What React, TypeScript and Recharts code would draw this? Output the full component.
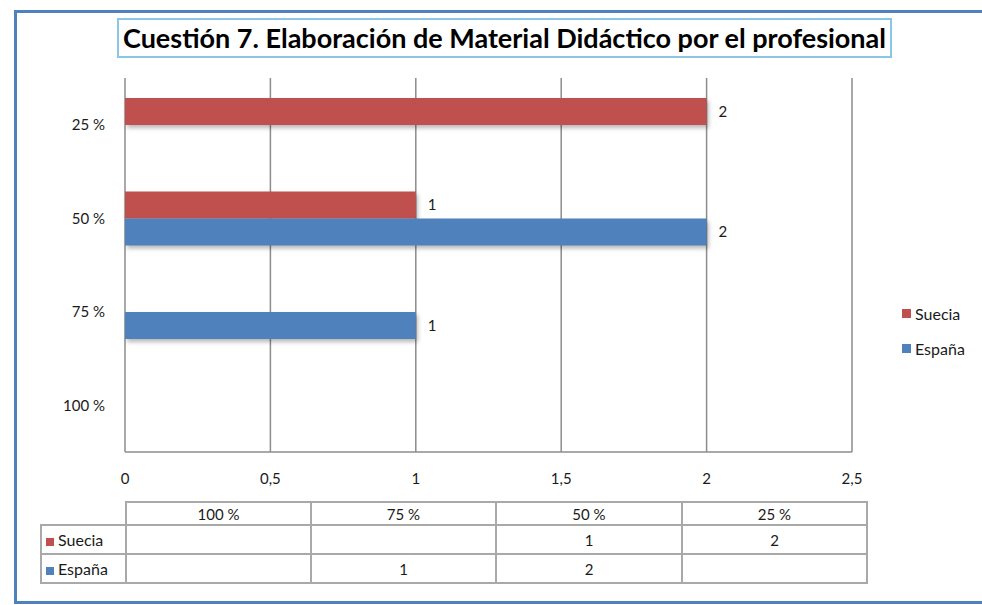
import React from "react";
import { BarChart, Bar, XAxis, YAxis, CartesianGrid, LabelList } from "recharts";

const title = "Cuestión 7. Elaboración de Material Didáctico por el profesional";
const categories = ["25 %", "50 %", "75 %", "100 %"];
const suecia = [2, 1, null, null];
const espana = [null, 2, 1, null];
const xTicks = [0, 0.5, 1, 1.5, 2, 2.5];

const series = [
  { key: "suecia", name: "Suecia", color: "#C0504D", values: suecia },
  { key: "espana", name: "España", color: "#4F81BD", values: espana },
];

const data = categories.map((cat, i) => ({
  cat,
  suecia: suecia[i],
  espana: espana[i],
}));

const FONT = "Lato, 'Open Sans', sans-serif";
const gridColor = "#8c8c8c";
const cellBorder = "2px solid #a9a9a9";

// table columns run the other way round (100 % first)
const tableCols = [...categories].reverse();
const colWidths = [183, 183, 184, 183];

const fmt = (v: number) => String(v).replace(".", ",");

export default function App() {
  return (
    <div
      style={{
        position: "absolute",
        left: 0,
        top: 0,
        width: 982,
        height: 605,
        overflow: "hidden",
        background: "#fff",
        fontFamily: FONT,
      }}
    >
      <style>{`.recharts-bar-rectangle path { filter: drop-shadow(2px 3px 2px rgba(0,0,0,0.28)); }`}</style>

      {/* outer frame */}
      <div
        style={{
          position: "absolute",
          left: 14,
          top: 10,
          width: 1000,
          height: 594,
          boxSizing: "border-box",
          border: "3px solid #4F81BD",
        }}
      />

      {/* title */}
      <div
        style={{
          position: "absolute",
          left: 117,
          top: 18,
          width: 775,
          height: 40,
          boxSizing: "border-box",
          border: "2px solid #8CC6E6",
          fontWeight: 700,
          fontSize: 27,
          lineHeight: "36px",
          textAlign: "center",
          color: "#000",
          whiteSpace: "nowrap",
        }}
      >
        {title}
      </div>

      <div style={{ position: "absolute", left: 0, top: 0 }}>
        <BarChart
          width={982}
          height={605}
          data={data}
          layout="vertical"
          margin={{ top: 78, right: 130, left: 0, bottom: 113 }}
          barSize={27}
          barGap={0}
        >
          <CartesianGrid
            horizontal={false}
            stroke={gridColor}
            strokeWidth={1.5}
          />
          <XAxis
            type="number"
            domain={[0, 2.5]}
            ticks={xTicks}
            tickFormatter={fmt}
            height={40}
            tickSize={0}
            tickMargin={21}
            axisLine={{ stroke: gridColor, strokeWidth: 1.5 }}
            tick={{ fill: "#1a1a1a", fontSize: 15, fontFamily: FONT }}
          />
          <YAxis
            type="category"
            dataKey="cat"
            width={125}
            tickSize={0}
            tickMargin={20}
            axisLine={false}
            tick={{ fill: "#1a1a1a", fontSize: 15, fontFamily: FONT }}
          />
          {series.map((s) => (
            <Bar
              key={s.key}
              dataKey={s.key}
              name={s.name}
              fill={s.color}
              isAnimationActive={false}
            >
              <LabelList
                dataKey={s.key}
                position="right"
                offset={12}
                fill="#1a1a1a"
                fontSize={15}
                fontFamily={FONT}
              />
            </Bar>
          ))}
        </BarChart>
      </div>

      {/* legend */}
      <div style={{ position: "absolute", left: 902, top: 303 }}>
        {series.map((s, i) => (
          <div
            key={s.key}
            style={{
              display: "flex",
              alignItems: "center",
              height: 20,
              marginBottom: i === 0 ? 15 : 0,
              fontSize: 16,
              color: "#1a1a1a",
            }}
          >
            <span
              style={{
                display: "inline-block",
                width: 9,
                height: 9,
                background: s.color,
                marginRight: 4,
              }}
            />
            {s.name}
          </div>
        ))}
      </div>

      {/* data table */}
      <table
        style={{
          position: "absolute",
          left: 40,
          top: 501,
          borderCollapse: "collapse",
          fontSize: 15,
          color: "#1a1a1a",
          fontFamily: FONT,
        }}
      >
        <tbody>
          <tr style={{ height: 23 }}>
            <td style={{ width: 84, padding: 0 }} />
            {tableCols.map((c, i) => (
              <td
                key={c}
                style={{
                  width: colWidths[i],
                  border: cellBorder,
                  textAlign: "center",
                  padding: 0,
                }}
              >
                {c}
              </td>
            ))}
          </tr>
          {series.map((s) => {
            const vals = [...s.values].reverse();
            return (
              <tr key={s.key} style={{ height: 29 }}>
                <td
                  style={{
                    border: cellBorder,
                    padding: "0 0 0 4px",
                    whiteSpace: "nowrap",
                    fontSize: 16,
                  }}
                >
                  <span
                    style={{
                      display: "inline-block",
                      width: 8,
                      height: 8,
                      background: s.color,
                      marginRight: 4,
                    }}
                  />
                  {s.name}
                </td>
                {vals.map((v, i) => (
                  <td
                    key={i}
                    style={{ border: cellBorder, textAlign: "center", padding: 0 }}
                  >
                    {v == null ? "" : v}
                  </td>
                ))}
              </tr>
            );
          })}
        </tbody>
      </table>
    </div>
  );
}
